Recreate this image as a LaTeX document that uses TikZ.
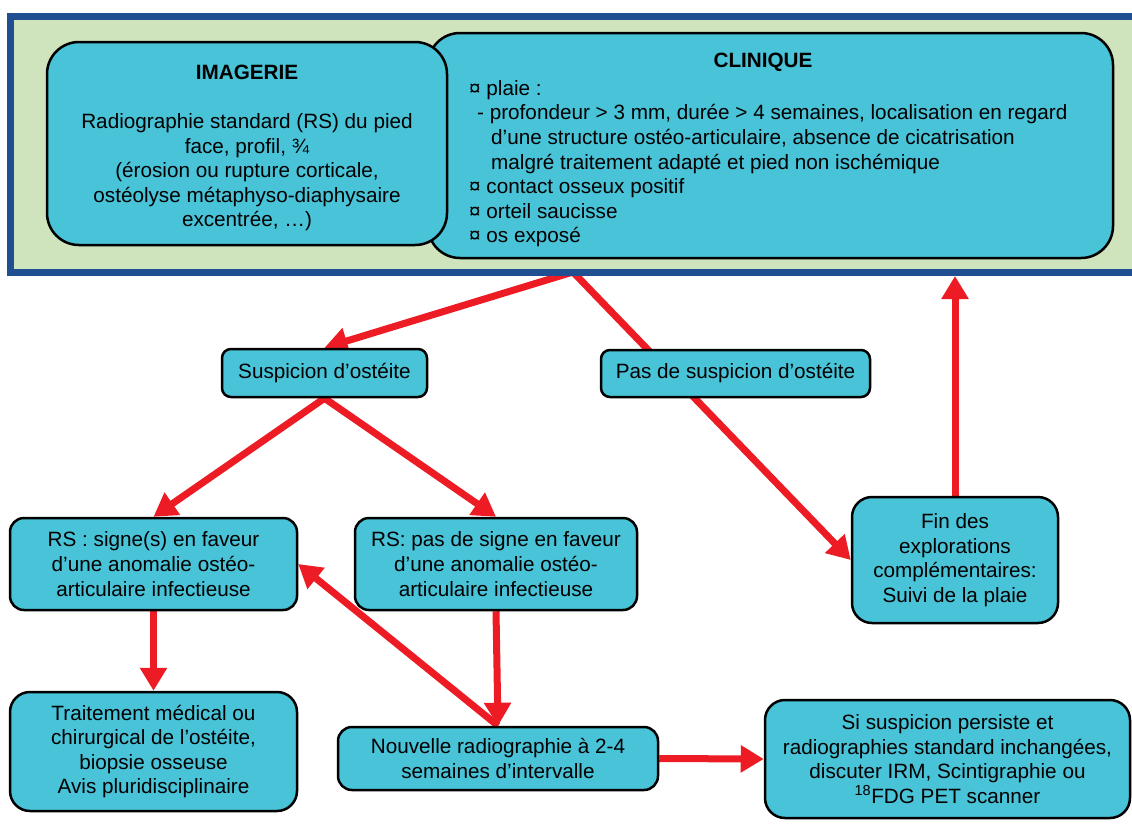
\documentclass[tikz,border=0pt]{standalone}
\usepackage{fontspec}
\setmainfont{Liberation Sans}
\usetikzlibrary{arrows.meta,backgrounds}

\definecolor{boxcyan}{RGB}{72,195,216}
\definecolor{framegreen}{RGB}{207,227,189}
\definecolor{frameblue}{RGB}{31,78,145}
\definecolor{linkred}{RGB}{237,28,36}

\begin{document}
\begin{tikzpicture}[x=1pt, y=-1pt,
    every node/.style={font=\fontsize{20.7}{24.6}\selectfont},
    box/.style={draw=black, line width=2.5pt, fill=boxcyan, rounded corners=14pt,
                align=center, inner sep=0pt},
    bigbox/.style={box, rounded corners=32pt},
    link/.style={draw=linkred, line width=7pt, -{Triangle[length=23pt,width=26pt]}}]

            \useasboundingbox (0,0) rectangle (1132,831);

            % Define the top frame
            \node[draw=frameblue, line width=7pt, fill=framegreen, minimum width=1140, minimum height=256.5] (frame) at (580,144.25) {};
            \node[bigbox, minimum width=685, minimum height=225] (clin) at (770.5,145.5) {};
            \node[font=\fontsize{20.7}{24.6}\selectfont\bfseries] (clintitle) at (763,62) {CLINIQUE};
            \node[anchor=north west, align=left, inner sep=0pt] (clinlist) at (469,80) {%
              ¤ plaie :\\
              \hspace*{8pt}- profondeur > 3 mm, durée > 4 semaines, localisation en regard\\
              \hspace*{22pt}d'une structure ostéo-articulaire, absence de cicatrisation\\
              \hspace*{22pt}malgré traitement adapté et pied non ischémique\\
              ¤ contact osseux positif\\
              ¤ orteil saucisse\\
              ¤ os exposé};
            \node[bigbox, minimum width=400, minimum height=203] (img) at (247,143.5) {};
            \node[align=center, inner sep=0pt] (imgtext) at (247,148)
              {\textbf{IMAGERIE}\\[24.6pt]
               Radiographie standard (RS) du pied\\
               face, profil, ¾\\
               (érosion ou rupture corticale,\\
               ostéolyse métaphyso-diaphysaire\\
               excentrée, …)};

            % Define the decision boxes
            \node[box, rounded corners=9pt, minimum width=205, minimum height=48] (susp) at (324.5,373) {Suspicion d’ostéite};
            \node[box, rounded corners=9pt, minimum width=269, minimum height=47] (pas) at (735.5,373.5) {Pas de suspicion d’ostéite};
            \node[box, minimum width=287, minimum height=92] (rspos) at (153.5,564)
              {RS : signe(s) en faveur\\ d’une anomalie ostéo-\\ articulaire infectieuse};
            \node[box, minimum width=282, minimum height=92] (rsneg) at (496,564)
              {RS: pas de signe en faveur\\ d’une anomalie ostéo-\\ articulaire infectieuse};
            \node[box, rounded corners=20pt, minimum width=206, minimum height=126] (fin) at (955,560)
              {Fin des\\ explorations\\ complémentaires:\\ Suivi de la plaie};
            \node[box, rounded corners=20pt, minimum width=287, minimum height=119] (trait) at (153.5,751.5)
              {Traitement médical ou\\ chirurgical de l’ostéite,\\ biopsie osseuse\\ Avis pluridisciplinaire};
            \node[box, minimum width=320, minimum height=63] (nouv) at (498,758.5)
              {Nouvelle radiographie à 2-4\\ semaines d’intervalle};
            \node[box, rounded corners=20pt, minimum width=365, minimum height=118] (si) at (947.5,759)
              {Si suspicion persiste et\\ radiographies standard inchangées,\\ discuter IRM, Scintigraphie ou\\ \textsuperscript{18}FDG PET scanner};

            \coordinate (apex) at (573,272);
            \coordinate (retour) at (fin.north |- 0,276);

            % Draw the arrows behind the boxes
            \begin{scope}[on background layer]
              \draw[link] (apex) -- (susp.north);
              \draw[link] (apex) -- (fin.west);
              \draw[link] (susp.south) -- (rspos.north);
              \draw[link] (susp.south) -- (rsneg.north);
              \draw[link] (rspos.south) -- (trait.north);
              \draw[link] (rsneg.south) -- (nouv.north);
              \draw[link] (nouv.north) -- (rspos.east);
              \draw[link] (nouv.east) -- (si.west);
              \draw[link] (fin.north) -- (retour);
            \end{scope}
        \end{tikzpicture}
\end{document}
